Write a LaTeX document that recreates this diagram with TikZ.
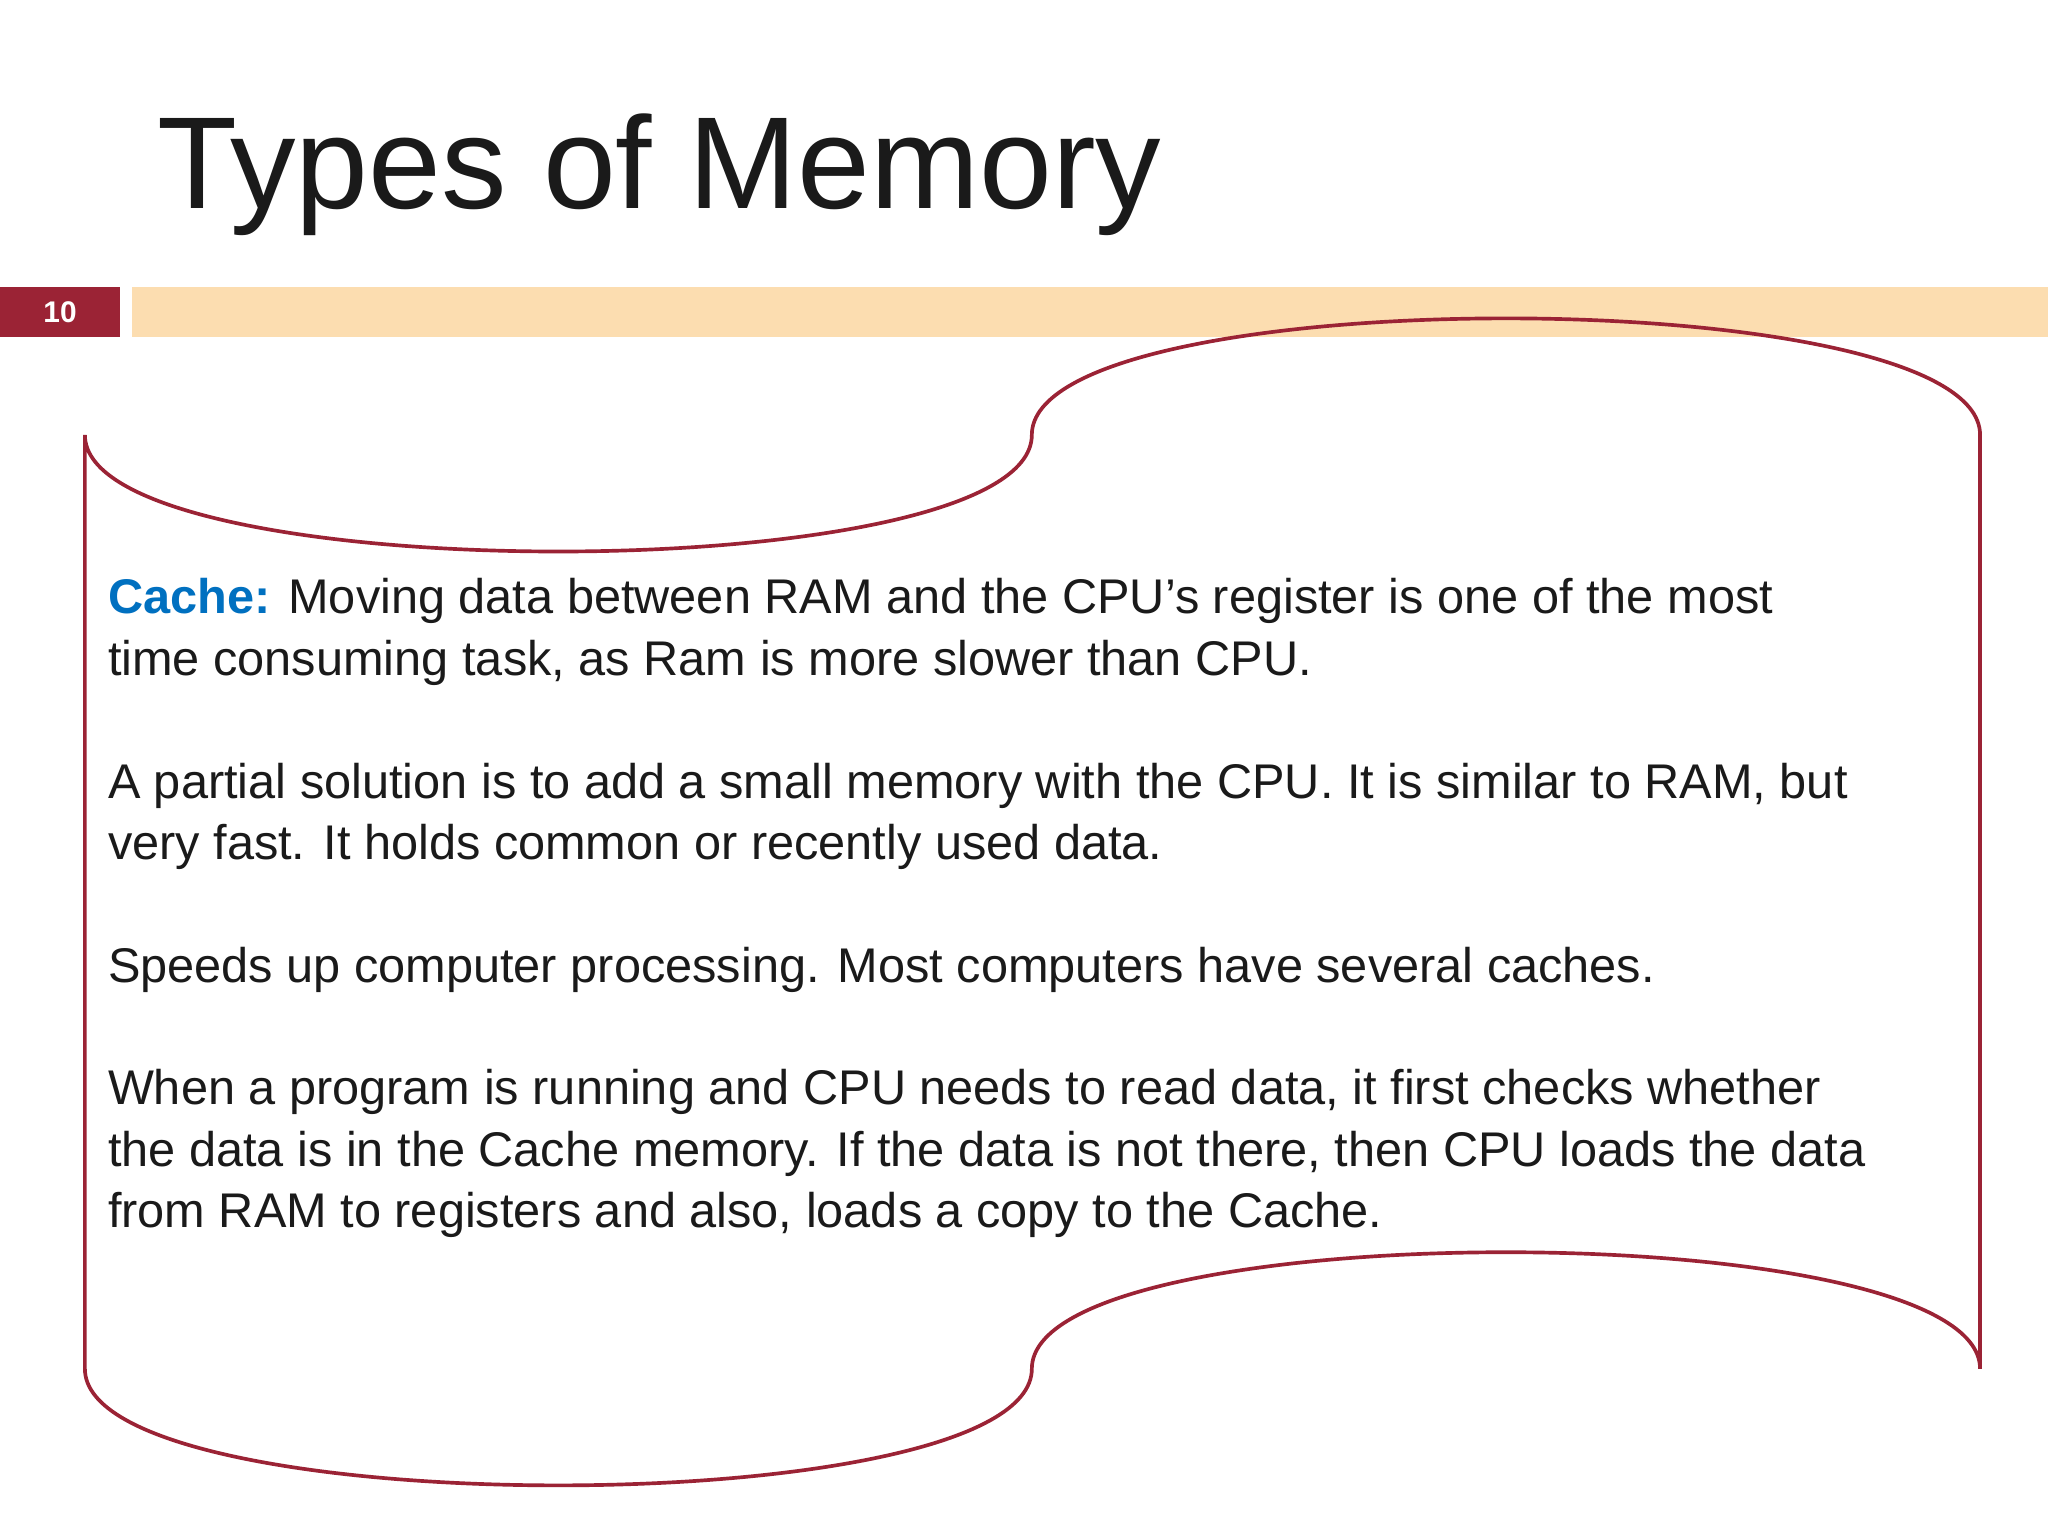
\documentclass[tikz,border=0pt]{standalone}
\usepackage{fontspec}
\setmainfont{Liberation Sans}
\definecolor{dred}{HTML}{9B2335}
\definecolor{peach}{HTML}{FCDDB0}
\definecolor{cblue}{HTML}{0070C0}
\definecolor{txt}{HTML}{1A1A1A}
\tikzset{line/.style={anchor=base west,inner sep=0pt,font=\fontsize{10.6pt}{13pt}\selectfont,text=txt}}
\begin{document}
\begin{tikzpicture}[x=0.01cm,y=-0.01cm]
\useasboundingbox (0,0) rectangle (1568,1176);
\fill[white] (0,0) rectangle (1568,1176);
\node[anchor=base west,inner sep=0pt,font=\fontsize{28.5pt}{30pt}\selectfont,text=txt] (title) at (120,160) {Types of Memory};
\fill[dred] (0,220) rectangle (92,258);
\node[text=white,font=\bfseries\fontsize{6.5pt}{7pt}\selectfont] (num) at (46,239) {10};
\fill[peach] (101,220) rectangle (1568,258);
\draw[dred,line width=0.8pt] (65,333) .. controls (65,452) and (790,452) .. (790,333)
  .. controls (790,214) and (1516,214) .. (1516,333) -- (1516,1048)
  .. controls (1516,929) and (790,929) .. (790,1048)
  .. controls (790,1167) and (65,1167) .. (65,1048) -- cycle;
\node[line] (l1) at (82,470) {\textcolor{cblue}{\bfseries Cache:} Moving data between RAM and the CPU’s register is one of the most};
\node[line] (l2) at (82,517) {time consuming task, as Ram is more slower than CPU.};
\node[line] (l3) at (82,611) {A partial solution is to add a small memory with the CPU. It is similar to RAM, but};
\node[line] (l4) at (82,658) {very fast. It holds common or recently used data.};
\node[line] (l5) at (82,752) {Speeds up computer processing. Most computers have several caches.};
\node[line] (l6) at (82,846) {When a program is running and CPU needs to read data, it first checks whether};
\node[line] (l7) at (82,893) {the data is in the Cache memory. If the data is not there, then CPU loads the data};
\node[line] (l8) at (82,940) {from RAM to registers and also, loads a copy to the Cache.};
\end{tikzpicture}
\end{document}
